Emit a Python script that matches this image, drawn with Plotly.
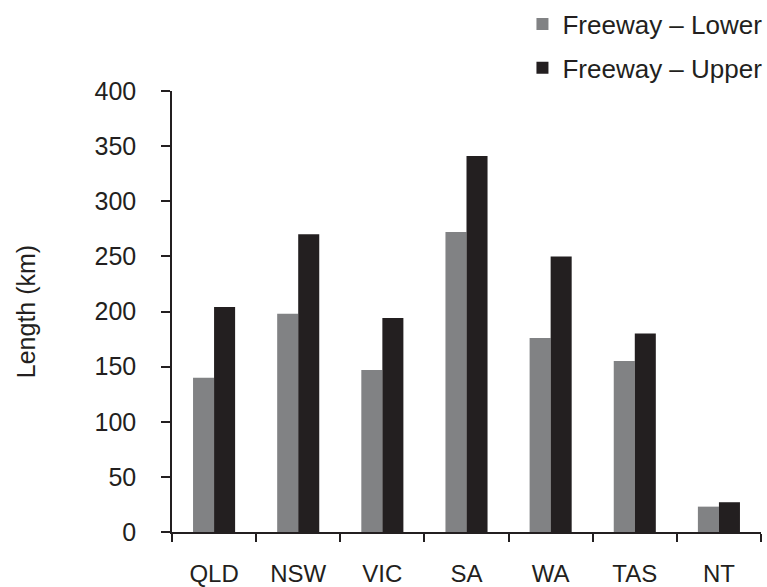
import plotly.graph_objects as go

# Freeway length estimates by state/territory
states = ["QLD", "NSW", "VIC", "SA", "WA", "TAS", "NT"]
freeway_lower = [140, 198, 147, 272, 176, 155, 23]
freeway_upper = [204, 270, 194, 341, 250, 180, 27]

y_ticks = [0, 50, 100, 150, 200, 250, 300, 350, 400]

INK = "#231F20"
FONT = "Liberation Sans, Arial, sans-serif"

fig = go.Figure()
fig.add_trace(go.Bar(
    x=states, y=freeway_lower, name="Freeway \u2013 Lower",
    marker=dict(color="#818284", line=dict(width=0)),
    legendgroup="lower",
))
fig.add_trace(go.Bar(
    x=states, y=freeway_upper, name="Freeway \u2013 Upper",
    marker=dict(color=INK, line=dict(width=0)),
    legendgroup="upper",
))

fig.update_layout(
    width=767, height=587,
    margin=dict(l=172, r=6, t=91, b=55, autoexpand=False),
    paper_bgcolor="white", plot_bgcolor="white",
    font=dict(family=FONT, size=25, color=INK),
    barmode="group", bargap=0.5, bargroupgap=0,
    showlegend=True,
    legend=dict(
        x=0.595, y=1.205, xanchor="left", yanchor="top",
        font=dict(family=FONT, size=26, color=INK),
        traceorder="grouped", tracegroupgap=7,
        bgcolor="rgba(0,0,0,0)", itemwidth=30,
    ),
)

fig.update_xaxes(
    type="category", tickson="boundaries",
    showline=True, linecolor=INK, linewidth=1.5,
    ticks="outside", ticklen=8, tickwidth=1.5, tickcolor=INK,
    ticklabelstandoff=19,
    showgrid=False, zeroline=False,
    tickfont=dict(family=FONT, size=24, color=INK),
)
fig.update_yaxes(
    range=[0, 400], tickvals=y_ticks,
    showline=True, linecolor=INK, linewidth=1.5,
    ticks="outside", ticklen=9, tickwidth=1.5, tickcolor=INK,
    ticklabelstandoff=20,
    showgrid=False, zeroline=False,
    tickfont=dict(family=FONT, size=25, color=INK),
    title=dict(text="Length (km)", font=dict(family=FONT, size=25, color=INK), standoff=52),
)

fig.write_html("out.html")
